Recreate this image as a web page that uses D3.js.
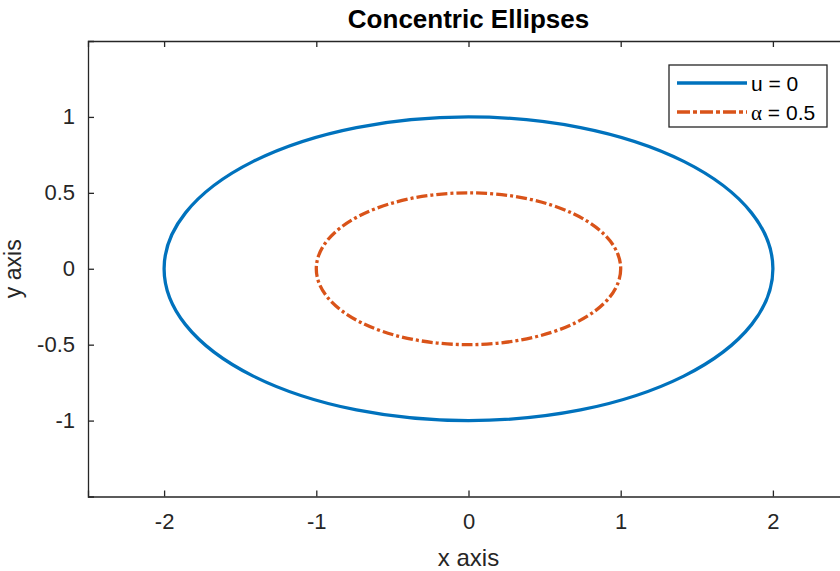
<!DOCTYPE html>
<html>
<head>
<meta charset="utf-8">
<script src="https://cdn.jsdelivr.net/npm/d3@7"></script>
<style>
  body { margin: 0; background: #fff; }
  svg { display: block; font-family: "Liberation Sans", Arial, sans-serif; }
</style>
</head>
<body>
<script>
// ellipse parameters (centre, semi-axes)
const seriesNames = ['u = 0', 'α = 0.5'];
const centerX = [0, 0];
const centerY = [0, 0];
const semiX = [2, 1];
const semiY = [1, 0.5];
const xTicks = [-2, -1, 0, 1, 2];
const yTicks = [-1, -0.5, 0, 0.5, 1];

const W = 840, H = 571;
const M = { left: 88, top: 41, right: 849, bottom: 496.5 };

const svg = d3.select('body').append('svg')
    .attr('width', W)
    .attr('height', H);

const x = d3.scaleLinear().domain([-2.5, 2.5]).range([M.left, M.right]);
const y = d3.scaleLinear().domain([-1.5, 1.5]).range([M.bottom, M.top]);

const colors = ['#0072BD', '#D95319'];
const dashes = [null, '11,3,3,3'];

// curves
svg.append('g').selectAll('ellipse')
    .data(seriesNames)
    .enter().append('ellipse')
    .attr('cx', (d, i) => x(centerX[i]))
    .attr('cy', (d, i) => y(centerY[i]))
    .attr('rx', (d, i) => x(semiX[i]) - x(0))
    .attr('ry', (d, i) => y(0) - y(semiY[i]))
    .attr('fill', 'none')
    .attr('stroke', (d, i) => colors[i])
    .attr('stroke-width', 3.3)
    .attr('stroke-dasharray', (d, i) => dashes[i]);

// axes (box, ticks inward)
const tickLen = 6;
const axisColor = '#262626';
const fmt = d => d3.format('')(d).replace('−', '-');

const xAxisB = d3.axisBottom(x).tickValues(xTicks).tickSize(-tickLen).tickPadding(17).tickFormat(fmt);
const xAxisT = d3.axisTop(x).tickValues(xTicks).tickSize(-tickLen).tickFormat('');
const yAxisL = d3.axisLeft(y).tickValues(yTicks).tickSize(-tickLen).tickPadding(13).tickFormat(fmt);
const yAxisR = d3.axisRight(y).tickValues(yTicks).tickSize(-tickLen).tickFormat('');

const groups = [
  svg.append('g').attr('transform', `translate(0,${M.bottom})`).call(xAxisB),
  svg.append('g').attr('transform', `translate(0,${M.top})`).call(xAxisT),
  svg.append('g').attr('transform', `translate(${M.left},0)`).call(yAxisL),
  svg.append('g').attr('transform', `translate(${M.right},0)`).call(yAxisR)
];
groups.forEach(g => {
  g.select('.domain').attr('stroke', axisColor).attr('stroke-width', 1.3);
  g.selectAll('.tick line').attr('stroke', axisColor).attr('stroke-width', 1.3);
  g.selectAll('.tick text')
    .attr('fill', '#262626')
    .style('font-size', '22px')
    .style('font-family', '"Liberation Sans", Arial, sans-serif');
});

// title and axis labels
svg.append('text')
    .attr('x', x(0))
    .attr('y', 28)
    .attr('text-anchor', 'middle')
    .style('font-size', '26px')
    .style('font-weight', 'bold')
    .attr('fill', '#000')
    .text('Concentric Ellipses');

svg.append('text')
    .attr('x', x(0))
    .attr('y', 566)
    .attr('text-anchor', 'middle')
    .style('font-size', '24px')
    .attr('fill', '#262626')
    .text('x axis');

svg.append('text')
    .attr('transform', `translate(21,${y(0)}) rotate(-90)`)
    .attr('text-anchor', 'middle')
    .style('font-size', '23px')
    .attr('fill', '#262626')
    .text('y axis');

// legend
const legend = svg.append('g').attr('transform', 'translate(669,65)');
legend.append('rect')
    .attr('width', 158)
    .attr('height', 62)
    .attr('fill', '#fff')
    .attr('stroke', axisColor)
    .attr('stroke-width', 1.3);

const rows = legend.selectAll('g.row')
    .data(seriesNames)
    .enter().append('g')
    .attr('class', 'row')
    .attr('transform', (d, i) => `translate(0,${18 + i * 29})`);

rows.append('line')
    .attr('x1', 8).attr('x2', 78)
    .attr('stroke', (d, i) => colors[i])
    .attr('stroke-width', 3.3)
    .attr('stroke-dasharray', (d, i) => i === 1 ? '13,3,4,3' : null);

const labels = rows.append('text')
    .attr('x', 82)
    .attr('dy', '0.36em')
    .style('font-size', '21px')
    .attr('fill', '#000');

labels.each(function(d) {
  const t = d3.select(this);
  if (d.startsWith('α')) {
    t.append('tspan')
      .style('font-family', '"Liberation Serif", "DejaVu Serif", serif')
      .text('α');
    t.append('tspan').text(d.slice(1));
  } else {
    t.text(d);
  }
});
</script>
</body>
</html>
